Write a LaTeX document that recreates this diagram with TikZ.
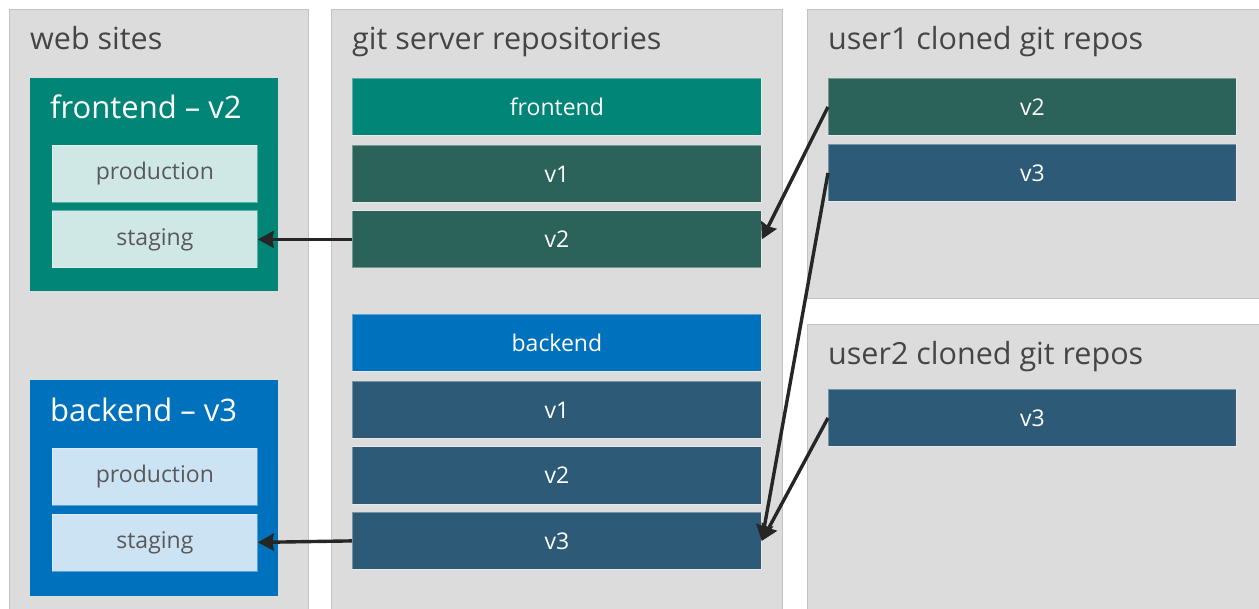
\documentclass[tikz,border=0pt]{standalone}
\usepackage{fontspec}
\setmainfont{Open Sans}
\usetikzlibrary{arrows.meta}

\definecolor{panelbg}{HTML}{DCDCDC}
\definecolor{panelline}{HTML}{C2C2C2}
\definecolor{tealmain}{HTML}{008577}
\definecolor{tealdark}{HTML}{2B6259}
\definecolor{bluemain}{HTML}{0071BC}
\definecolor{bluedark}{HTML}{2D5A77}
\definecolor{tealpale}{HTML}{CFE8E5}
\definecolor{bluepale}{HTML}{CCE3F3}
\definecolor{titlegray}{HTML}{454545}
\definecolor{labelgray}{HTML}{595959}
\definecolor{arrowink}{HTML}{262626}

\tikzset{
  panel/.style={draw=panelline, line width=1pt, fill=panelbg, anchor=north west, inner sep=0pt},
  paneltitle/.style={anchor=base west, inner sep=0pt, text=titlegray, font=\fontsize{30.5}{34}\selectfont},
  sitetitle/.style={anchor=base west, inner sep=0pt, text=white, font=\fontsize{31}{35}\selectfont},
  bar/.style={anchor=north west, inner sep=0pt, minimum height=57pt,
    draw=white, draw opacity=0.35, line width=0.8pt, text=white, font=\fontsize{23}{27}\selectfont},
  gitbar/.style={bar, minimum width=409pt},
  userbar/.style={bar, minimum width=408pt},
  envbox/.style={bar, minimum width=205pt, text=labelgray},
  sitebox/.style={anchor=north west, inner sep=0pt, minimum width=248pt},
  flow/.style={draw=arrowink, line width=3.4pt, -{Stealth[length=16pt, width=17pt, inset=1.5pt]}}
}

\begin{document}
\begin{tikzpicture}[x=1pt, y=-1pt]
\useasboundingbox (0,0) rectangle (1259,609);
\clip (0,0) rectangle (1259,609);

% column panels
\node[panel, minimum width=299pt, minimum height=620pt] (web) at (9,9) {};
\node[panel, minimum width=451pt, minimum height=620pt] (git) at (331,9) {};
\node[panel, minimum width=470pt, minimum height=289pt] (user1) at (807,9) {};
\node[panel, minimum width=470pt, minimum height=300pt] (user2) at (807,324) {};

\node[paneltitle] (webt) at (30,50) {web sites};
\node[paneltitle] (gitt) at (352,50) {git server repositories};
\node[paneltitle] (user1t) at (828,50) {user1 cloned git repos};
\node[paneltitle] (user2t) at (828,365) {user2 cloned git repos};

% deployed web sites
\node[sitebox, fill=tealmain, minimum height=213pt] (fsite) at (30,78) {};
\node[sitetitle] (fsitet) at (50,119) {frontend – v2};
\node[envbox, fill=tealpale] (fprod) at (52,145) {production};
\node[envbox, fill=tealpale] (fstag) at (52,210.5) {staging};

\node[sitebox, fill=bluemain, minimum height=216pt] (bsite) at (30,380) {};
\node[sitetitle] (bsitet) at (50,422) {backend – v3};
\node[envbox, fill=bluepale] (bprod) at (52,448) {production};
\node[envbox, fill=bluepale] (bstag) at (52,513.5) {staging};

% server repositories
\node[gitbar, fill=tealmain] (frepo) at (352,78) {frontend};
\node[gitbar, fill=tealdark] (fv1) at (352,145) {v1};
\node[gitbar, fill=tealdark] (fv2) at (352,210.5) {v2};

\node[gitbar, fill=bluemain] (brepo) at (352,314) {backend};
\node[gitbar, fill=bluedark] (bv1) at (352,381) {v1};
\node[gitbar, fill=bluedark] (bv2) at (352,446.5) {v2};
\node[gitbar, fill=bluedark] (bv3) at (352,512) {v3};

% local clones
\node[userbar, fill=tealdark] (u1v2) at (828,78) {v2};
\node[userbar, fill=bluedark] (u1v3) at (828,144) {v3};
\node[userbar, fill=bluedark] (u2v3) at (828,389) {v3};

% deployments and pushes
\draw[flow] (fv2.west) -- (fstag.east);
\draw[flow] (bv3.west) -- (bstag.east);
\draw[flow] (u1v2.west) -- (fv2.east);
\draw[flow] (u1v3.west) -- (bv3.east);
\draw[flow] (u2v3.west) -- (bv3.east);
\end{tikzpicture}
\end{document}
